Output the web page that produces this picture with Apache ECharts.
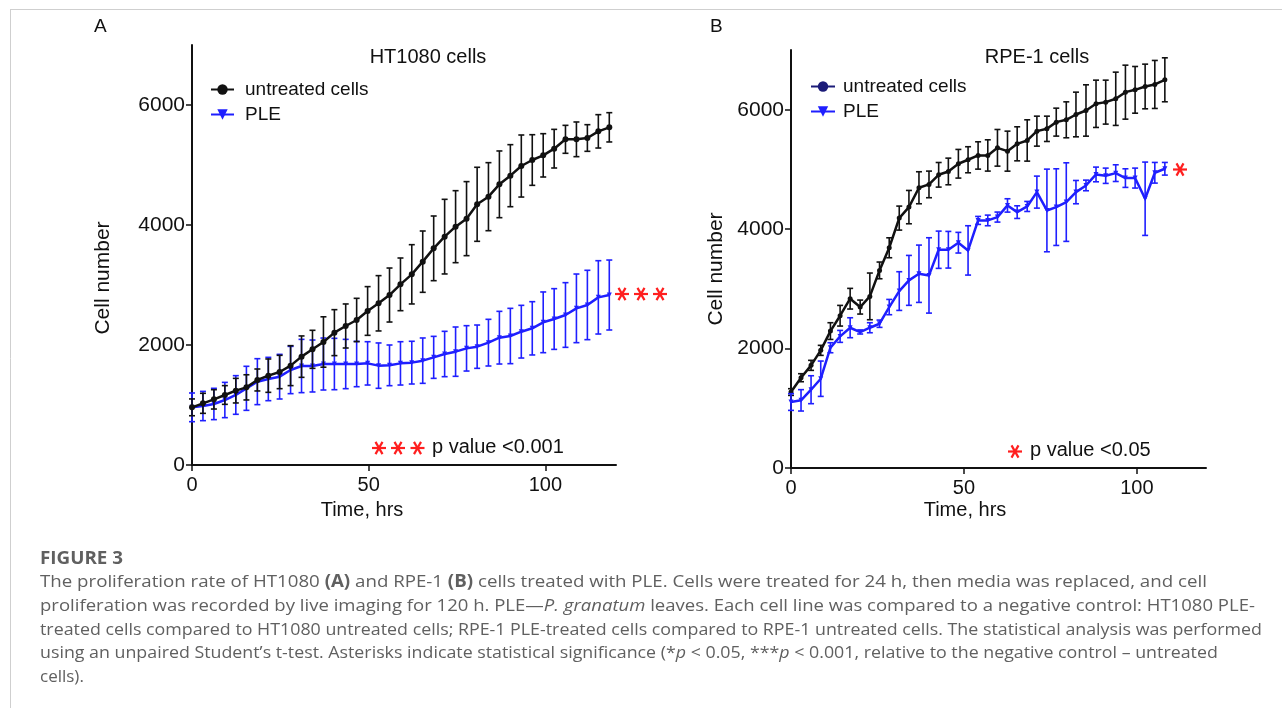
<!DOCTYPE html>
<html>
<head>
<meta charset="utf-8">
<script src="https://cdn.jsdelivr.net/npm/echarts@6/dist/echarts.min.js"></script>
<style>
html,body{margin:0;padding:0;background:#fff;}
#chart{width:1282px;height:708px;}
</style>
</head>
<body>
<div id="chart"></div>
<script>
// ---------- Panel A: HT1080 cells ----------
var timesA = [0, 3.1, 6.2, 9.3, 12.4, 15.4, 18.5, 21.6, 24.8, 27.9, 31.0, 34.1, 37.2, 40.3, 43.5, 46.6, 49.7, 52.8, 55.9, 59.0, 62.2, 65.3, 68.4, 71.5, 74.6, 77.7, 80.7, 83.9, 87.0, 90.1, 93.2, 96.3, 99.4, 102.5, 105.7, 108.8, 111.9, 115.0, 118.1];
var untreatedA = [961, 1028, 1094, 1167, 1239, 1294, 1417, 1489, 1550, 1656, 1806, 1928, 2050, 2206, 2317, 2417, 2567, 2695, 2833, 3011, 3178, 3389, 3611, 3806, 3972, 4106, 4345, 4472, 4678, 4822, 4983, 5083, 5161, 5272, 5428, 5428, 5450, 5561, 5628];
var untreatedA_sd = [140, 167, 161, 156, 205, 210, 183, 278, 278, 333, 345, 317, 420, 383, 367, 361, 406, 461, 450, 439, 494, 511, 539, 622, 600, 617, 617, 567, 556, 517, 517, 422, 361, 322, 233, 289, 222, 278, 244];
var pleA = [961, 983, 1017, 1083, 1167, 1278, 1389, 1433, 1472, 1583, 1650, 1650, 1683, 1683, 1683, 1683, 1694, 1656, 1661, 1694, 1706, 1739, 1794, 1850, 1889, 1944, 1972, 2039, 2122, 2150, 2222, 2278, 2378, 2433, 2500, 2611, 2667, 2794, 2833];
var pleA_sd = [239, 244, 261, 294, 322, 367, 383, 361, 372, 394, 444, 433, 433, 428, 411, 378, 361, 378, 339, 361, 356, 378, 350, 378, 411, 378, 361, 389, 439, 461, 439, 444, 506, 506, 539, 572, 578, 611, 583];

// ---------- Panel B: RPE-1 cells ----------
var timesB = [0, 2.9, 5.8, 8.6, 11.4, 14.2, 17.1, 20.0, 22.8, 25.6, 28.4, 31.3, 34.1, 37.0, 39.9, 42.7, 45.5, 48.4, 51.2, 54.1, 56.9, 59.7, 62.6, 65.4, 68.3, 71.1, 74.0, 76.7, 79.6, 82.4, 85.3, 88.2, 91.0, 93.9, 96.7, 99.5, 102.4, 105.2, 108.1];
var untreatedB = [1272, 1512, 1719, 1970, 2293, 2550, 2835, 2695, 2874, 3309, 3688, 4185, 4369, 4693, 4749, 4910, 4966, 5095, 5162, 5234, 5234, 5362, 5306, 5429, 5485, 5641, 5680, 5792, 5831, 5920, 5987, 6099, 6127, 6183, 6294, 6333, 6389, 6423, 6501];
var untreatedB_sd = [56, 67, 84, 84, 140, 173, 173, 117, 391, 140, 167, 201, 279, 268, 223, 206, 223, 240, 218, 229, 262, 307, 335, 285, 346, 251, 212, 234, 301, 374, 430, 396, 368, 446, 452, 391, 374, 402, 368];
var pleB = [1105, 1133, 1311, 1495, 2014, 2204, 2349, 2277, 2349, 2416, 2695, 2963, 3142, 3253, 3225, 3655, 3655, 3773, 3644, 4146, 4146, 4202, 4397, 4285, 4380, 4620, 4313, 4369, 4453, 4620, 4732, 4916, 4894, 4938, 4855, 4855, 4509, 4944, 5011];
var pleB_sd = [140, 179, 234, 296, 84, 100, 167, 33, 84, 61, 128, 324, 418, 480, 631, 312, 307, 173, 413, 67, 89, 84, 112, 106, 84, 268, 692, 642, 658, 195, 89, 123, 128, 140, 156, 167, 614, 173, 106];

// ---------- Axis ticks / labels ----------
var xTicks = [0, 50, 100];
var yTicks = [0, 2000, 4000, 6000];
var seriesNames = ['untreated cells', 'PLE'];

var BLACK = '#111111';
var BLUE = '#1f1fff';
var NAVY = '#1b1b78';
var RED = '#ff1f1f';
var FONT = '"Liberation Sans", Arial, sans-serif';
var CAPFONT = '"Open Sans", "Noto Sans", sans-serif';
var CAPCOLOR = '#606060';

function pts(t, v) { return t.map(function (x, i) { return [x, v[i]]; }); }
function errs(t, v, sd) { return t.map(function (x, i) { return [x, v[i] - sd[i], v[i] + sd[i]]; }); }

function errSeries(idx, data, color, z) {
  return {
    type: 'custom', xAxisIndex: idx, yAxisIndex: idx, z: z, silent: true,
    data: data,
    renderItem: function (params, api) {
      var x = api.value(0), lo = api.value(1), hi = api.value(2);
      var p1 = api.coord([x, lo]), p2 = api.coord([x, hi]);
      var w = 3;
      var st = { stroke: color, lineWidth: 1.6 };
      return {
        type: 'group', children: [
          { type: 'line', shape: { x1: p1[0], y1: p1[1], x2: p2[0], y2: p2[1] }, style: st },
          { type: 'line', shape: { x1: p1[0] - w, y1: p1[1], x2: p1[0] + w, y2: p1[1] }, style: st },
          { type: 'line', shape: { x1: p2[0] - w, y1: p2[1], x2: p2[0] + w, y2: p2[1] }, style: st }
        ]
      };
    }
  };
}

function lineSeries(name, idx, data, color, symbol, size, rotate, z) {
  return {
    name: name, type: 'line', xAxisIndex: idx, yAxisIndex: idx, z: z,
    data: data, symbol: symbol, symbolSize: size, symbolRotate: rotate,
    showSymbol: true,
    lineStyle: { color: color, width: 2.5 },
    itemStyle: { color: color }
  };
}

function star(cx, cy) {
  var a = 7, dx = 3.5, dy = 6.1;
  var st = { stroke: RED, lineWidth: 2.2 };
  return {
    type: 'group', children: [
      { type: 'line', shape: { x1: cx - a, y1: cy, x2: cx + a, y2: cy }, style: st },
      { type: 'line', shape: { x1: cx - dx, y1: cy - dy, x2: cx + dx, y2: cy + dy }, style: st },
      { type: 'line', shape: { x1: cx - dx, y1: cy + dy, x2: cx + dx, y2: cy - dy }, style: st }
    ]
  };
}

function txt(x, y, s, size, extra) {
  var o = { type: 'text', x: x, y: y, style: { text: s, font: size + 'px ' + FONT, fill: BLACK, align: 'left', verticalAlign: 'middle' } };
  if (extra) { for (var k in extra) { o.style[k] = extra[k]; } }
  return o;
}

function xAxis(idx) {
  return {
    gridIndex: idx, type: 'value', min: 0, max: 120,
    axisLine: { show: true, onZero: false, lineStyle: { color: BLACK, width: 2 } },
    axisTick: { show: true, length: 6, customValues: xTicks, lineStyle: { color: BLACK, width: 1.5 } },
    axisLabel: { customValues: xTicks, margin: 10, fontSize: 20, fontFamily: FONT, color: BLACK, formatter: function (v) { return String(v); } },
    splitLine: { show: false }
  };
}
function yAxis(idx) {
  return {
    gridIndex: idx, type: 'value', min: 0, max: 7000,
    axisLine: { show: true, onZero: false, lineStyle: { color: BLACK, width: 2 } },
    axisTick: { show: true, length: 6, customValues: yTicks, lineStyle: { color: BLACK, width: 1.5 } },
    axisLabel: { customValues: yTicks, margin: 7, fontSize: 21, fontFamily: FONT, color: BLACK, formatter: function (v) { return String(v); } },
    splitLine: { show: false }
  };
}

// caption lines, stretched horizontally to the reference's line widths
var measureCtx = document.createElement('canvas').getContext('2d');
function capLine(y, s, endX, size, weight) {
  var plain = s.replace(/\{[bi]\|([^}]*)\}/g, '$1');
  var font = (weight ? weight + ' ' : '') + size + 'px ' + CAPFONT;
  measureCtx.font = font;
  var w = measureCtx.measureText(plain).width;
  var sx = endX ? (endX - 40) / w : 1;
  return {
    type: 'text', x: 40, y: y, scaleX: sx,
    style: {
      text: s, font: font, fill: CAPCOLOR, verticalAlign: 'middle',
      rich: {
        b: { fontWeight: 'bold', fontSize: size, fontFamily: CAPFONT, fill: CAPCOLOR },
        i: { fontStyle: 'italic', fontSize: size, fontFamily: CAPFONT, fill: CAPCOLOR }
      }
    }
  };
}

var chart = echarts.init(document.getElementById('chart'), null, { renderer: 'canvas' });
var option = {
  animation: false,
  backgroundColor: '#ffffff',
  grid: [
    { left: 192, top: 45, width: 424, height: 420, containLabel: false },
    { left: 791, top: 50, width: 415, height: 418, containLabel: false }
  ],
  xAxis: [xAxis(0), xAxis(1)],
  yAxis: [yAxis(0), yAxis(1)],
  legend: [
    {
      data: [seriesNames[0], seriesNames[1]], left: 205, top: 75, orient: 'vertical',
      itemWidth: 23, itemHeight: 13, itemGap: 6, selectedMode: false,
      textStyle: { fontSize: 19, fontFamily: FONT, color: BLACK, padding: [0, 0, 0, 6] }
    },
    {
      data: [
        { name: 'B ' + seriesNames[0], itemStyle: { color: NAVY }, lineStyle: { color: NAVY } },
        { name: 'B ' + seriesNames[1] }
      ],
      formatter: function (n) { return n.replace(/^B /, ''); },
      left: 805, top: 72, orient: 'vertical',
      itemWidth: 24, itemHeight: 13, itemGap: 6, selectedMode: false,
      textStyle: { fontSize: 19, fontFamily: FONT, color: BLACK, padding: [0, 0, 0, 3] }
    }
  ],
  series: [
    errSeries(0, errs(timesA, pleA, pleA_sd), BLUE, 2),
    lineSeries(seriesNames[1], 0, pts(timesA, pleA), BLUE, 'triangle', 5, 180, 3),
    errSeries(0, errs(timesA, untreatedA, untreatedA_sd), BLACK, 4),
    lineSeries(seriesNames[0], 0, pts(timesA, untreatedA), BLACK, 'circle', 6, 0, 5),
    errSeries(1, errs(timesB, untreatedB, untreatedB_sd), BLACK, 2),
    lineSeries('B ' + seriesNames[0], 1, pts(timesB, untreatedB), BLACK, 'circle', 5, 0, 3),
    errSeries(1, errs(timesB, pleB, pleB_sd), BLUE, 4),
    lineSeries('B ' + seriesNames[1], 1, pts(timesB, pleB), BLUE, 'triangle', 5, 180, 5)
  ],
  graphic: [
    // frame
    { type: 'line', shape: { x1: 10, y1: 9.5, x2: 1282, y2: 9.5 }, style: { stroke: '#cfcfcf', lineWidth: 1 } },
    { type: 'line', shape: { x1: 10.5, y1: 9, x2: 10.5, y2: 708 }, style: { stroke: '#cfcfcf', lineWidth: 1 } },
    // panel letters & titles
    txt(94, 27, 'A', 19),
    txt(710, 27, 'B', 19),
    txt(428, 57, 'HT1080 cells', 20, { align: 'center' }),
    txt(1037, 57, 'RPE-1 cells', 20, { align: 'center' }),
    // axis names
    { type: 'text', x: 103, y: 278, rotation: Math.PI / 2, style: { text: 'Cell number', font: '21px ' + FONT, fill: BLACK, align: 'center', verticalAlign: 'middle' } },
    { type: 'text', x: 716, y: 269, rotation: Math.PI / 2, style: { text: 'Cell number', font: '21px ' + FONT, fill: BLACK, align: 'center', verticalAlign: 'middle' } },
    txt(362, 510, 'Time, hrs', 20, { align: 'center' }),
    txt(965, 510, 'Time, hrs', 20, { align: 'center' }),
    // significance annotations
    star(379, 448), star(398, 448), star(417.5, 448),
    txt(432, 447, 'p value <0.001', 20),
    star(622, 294), star(641, 294), star(660, 294),
    star(1015, 451.5),
    txt(1030, 450, 'p value <0.05', 20),
    star(1180, 169.5),
    // caption
    capLine(559, 'FIGURE 3', 123, 17, 'bold'),
    capLine(582, 'The proliferation rate of HT1080 {b|(A)} and RPE-1 {b|(B)} cells treated with PLE. Cells were treated for 24 h, then media was replaced, and cell', 1202, 17),
    capLine(606, 'proliferation was recorded by live imaging for 120 h. PLE\u2014{i|P. granatum} leaves. Each cell line was compared to a negative control: HT1080 PLE-', 1259, 17),
    capLine(630, 'treated cells compared to HT1080 untreated cells; RPE-1 PLE-treated cells compared to RPE-1 untreated cells. The statistical analysis was performed', 1262, 17),
    capLine(653, 'using an unpaired Student\u2019s t-test. Asterisks indicate statistical significance (*{i|p} < 0.05, ***{i|p} < 0.001, relative to the negative control \u2013 untreated', 1219, 17),
    capLine(677, 'cells).', 0, 17)
  ]
};
chart.setOption(option);
</script>
</body>
</html>
